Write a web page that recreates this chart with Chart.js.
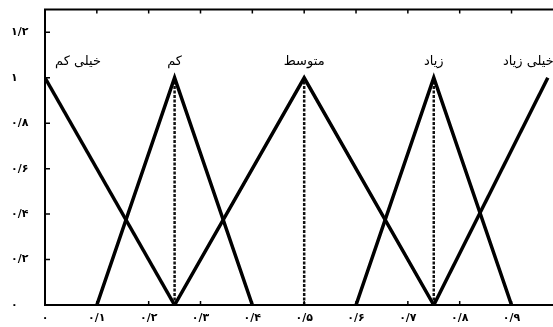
<!DOCTYPE html>
<html>
<head>
<meta charset="utf-8">
<script src="https://cdn.jsdelivr.net/npm/chart.js@4"></script>
<style>
html,body{margin:0;padding:0;background:#fff;}
#wrap{width:553px;height:327px;}
</style>
</head>
<body>
<div id="wrap"><canvas id="c" width="553" height="327"></canvas></div>
<script>
// ---- data ----
const seriesNames = ['خیلی کم', 'کم', 'متوسط', 'زیاد', 'خیلی زیاد'];
const veryLowX  = [0, 0.25];         const veryLowY  = [1, 0];
const lowX      = [0.1, 0.25, 0.4];  const lowY      = [0, 1, 0];
const mediumX   = [0.25, 0.5, 0.75]; const mediumY   = [0, 1, 0];
const highX     = [0.6, 0.75, 0.9];  const highY     = [0, 1, 0];
const veryHighX = [0.75, 0.97];      const veryHighY = [0, 1];
const guideX    = [0.25, 0.5, 0.75]; const guideY    = [0, 1];
const xTickValues = [0, 0.1, 0.2, 0.3, 0.4, 0.5, 0.6, 0.7, 0.8, 0.9];
const xTickLabels = ['۰', '۰/۱', '۰/۲', '۰/۳', '۰/۴', '۰/۵', '۰/۶', '۰/۷', '۰/۸', '۰/۹'];
const yTickValues = [0, 0.2, 0.4, 0.6, 0.8, 1, 1.2];
const yTickLabels = ['۰', '۰/۲', '۰/۴', '۰/۶', '۰/۸', '۱', '۱/۲'];

const pts = (xs, ys) => xs.map((x, i) => ({x: x, y: ys[i]}));
const seriesData = [
  pts(veryLowX, veryLowY), pts(lowX, lowY), pts(mediumX, mediumY),
  pts(highX, highY), pts(veryHighX, veryHighY)
];
const labelAlign = ['left', 'center', 'center', 'center', 'right'];

const datasets = seriesData.map((d, i) => ({
  label: seriesNames[i], data: d, borderColor: '#000', borderWidth: 3.5,
  borderJoinStyle: 'miter', pointRadius: 0, fill: false, tension: 0
}));
guideX.forEach(gx => datasets.push({
  label: '', data: pts([gx, gx], guideY), borderColor: '#111', borderWidth: 2.5,
  borderDash: [3, 1.5], pointRadius: 0, fill: false
}));

const FONT = '"DejaVu Sans", sans-serif';

const framePlugin = {
  id: 'frame',
  afterDatasetsDraw(chart) {
    const {ctx, chartArea: a, scales: {x, y}} = chart;
    ctx.save();
    ctx.strokeStyle = '#000';
    ctx.lineWidth = 2;
    ctx.beginPath();
    ctx.moveTo(a.right, a.top); ctx.lineTo(a.left, a.top);
    ctx.lineTo(a.left, a.bottom); ctx.lineTo(a.right, a.bottom);
    ctx.stroke();
    ctx.lineWidth = 1.5;
    ctx.beginPath();
    xTickValues.forEach(v => {
      const px = x.getPixelForValue(v);
      ctx.moveTo(px, a.bottom); ctx.lineTo(px, a.bottom - 4);
      ctx.moveTo(px, a.top); ctx.lineTo(px, a.top + 4);
    });
    yTickValues.forEach(v => {
      const py = y.getPixelForValue(v);
      ctx.moveTo(a.left, py); ctx.lineTo(a.left + 5, py);
    });
    ctx.stroke();
    // series names above the peaks
    ctx.fillStyle = '#000';
    ctx.font = '13px ' + FONT;
    ctx.textBaseline = 'middle';
    seriesNames.forEach((name, i) => {
      const meta = chart.getDatasetMeta(i);
      let best = 0;
      seriesData[i].forEach((p, j) => { if (p.y > seriesData[i][best].y) best = j; });
      const el = meta.data[best];
      let tx = el.x;
      if (labelAlign[i] === 'left') tx += 10;
      if (labelAlign[i] === 'right') tx += 6;
      ctx.textAlign = labelAlign[i];
      ctx.fillText(name, tx, el.y - 16);
    });
    ctx.restore();
  }
};

new Chart(document.getElementById('c'), {
  type: 'line',
  data: {datasets},
  options: {
    responsive: false,
    animation: false,
    layout: {padding: {left: 11, top: 7, right: 0, bottom: 0}},
    plugins: {legend: {display: false}, tooltip: {enabled: false}},
    scales: {
      x: {
        type: 'linear', min: 0, max: 0.98,
        grid: {display: false, drawTicks: false},
        border: {display: false},
        afterBuildTicks: s => { s.ticks = xTickValues.map(v => ({value: v})); },
        afterFit: s => { s.height = 22; },
        ticks: {
          padding: 7, color: '#000', maxRotation: 0, autoSkip: false,
          font: {family: FONT, size: 11, weight: 'bold'},
          callback: (v) => { const k = xTickValues.findIndex(t => Math.abs(t - v) < 1e-9); return k >= 0 ? xTickLabels[k] : ''; }
        }
      },
      y: {
        type: 'linear', min: 0, max: 1.3,
        grid: {display: false, drawTicks: false},
        border: {display: false},
        afterBuildTicks: s => { s.ticks = yTickValues.map(v => ({value: v})); },
        afterFit: s => { s.width = 34; },
        ticks: {
          crossAlign: 'far', color: '#000', autoSkip: false,
          font: {family: FONT, size: 11, weight: 'bold'},
          callback: (v) => { const k = yTickValues.findIndex(t => Math.abs(t - v) < 1e-9); return k >= 0 ? yTickLabels[k] : ''; }
        }
      }
    }
  },
  plugins: [framePlugin]
});
</script>
</body>
</html>
